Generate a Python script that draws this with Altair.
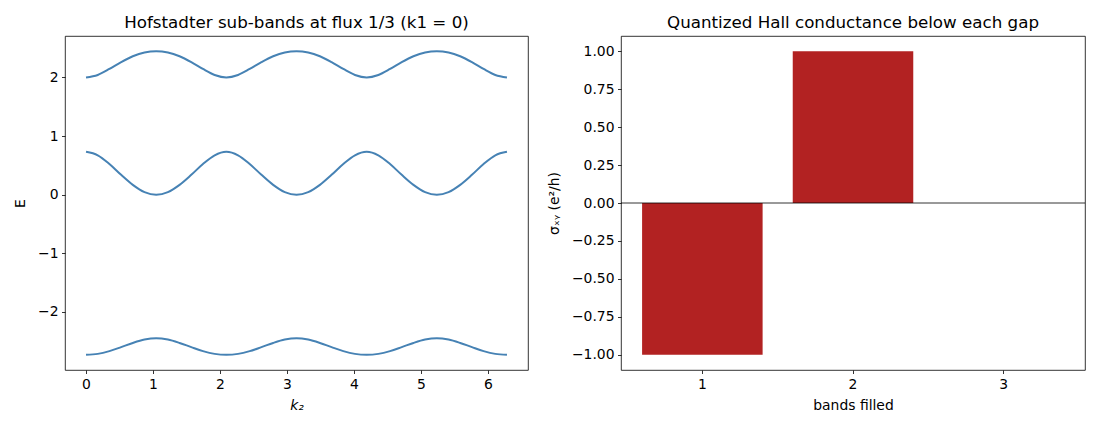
import pandas as pd
import altair as alt

# k2 samples across the Brillouin zone, 0 .. 2*pi
k2 = [0.0, 0.175, 0.349, 0.524, 0.698, 0.873, 1.047, 1.222, 1.396, 1.571, 1.745, 1.92,
      2.094, 2.269, 2.443, 2.618, 2.793, 2.967, 3.142, 3.316, 3.491, 3.665, 3.84, 4.014,
      4.189, 4.363, 4.538, 4.712, 4.887, 5.061, 5.236, 5.411, 5.585, 5.76, 5.934, 6.109, 6.283]

# energies of the three sub-bands
band_top = [2.000, 2.043, 2.145, 2.262, 2.362, 2.427, 2.449, 2.427, 2.362, 2.262, 2.145, 2.043,
            2.000, 2.043, 2.145, 2.262, 2.362, 2.427, 2.449, 2.427, 2.362, 2.262, 2.145, 2.043,
            2.000, 2.043, 2.145, 2.262, 2.362, 2.427, 2.449, 2.427, 2.362, 2.262, 2.145, 2.043, 2.000]
band_mid = [0.732, 0.673, 0.524, 0.339, 0.168, 0.045, 0.000, 0.045, 0.168, 0.339, 0.524, 0.673,
            0.732, 0.673, 0.524, 0.339, 0.168, 0.045, 0.000, 0.045, 0.168, 0.339, 0.524, 0.673,
            0.732, 0.673, 0.524, 0.339, 0.168, 0.045, 0.000, 0.045, 0.168, 0.339, 0.524, 0.673, 0.732]
band_bot = [-2.732, -2.716, -2.669, -2.601, -2.529, -2.472, -2.449, -2.472, -2.529, -2.601, -2.669, -2.716,
            -2.732, -2.716, -2.669, -2.601, -2.529, -2.472, -2.449, -2.472, -2.529, -2.601, -2.669, -2.716,
            -2.732, -2.716, -2.669, -2.601, -2.529, -2.472, -2.449, -2.472, -2.529, -2.601, -2.669, -2.716, -2.732]

# Hall conductance per number of filled bands
bands_filled = [1, 2, 3]
sigma_xy = [-1, 1, 0]

FONT = "DejaVu Sans"

df_bands = pd.concat([
    pd.DataFrame({"k2": k2, "E": band_top, "band": "top"}),
    pd.DataFrame({"k2": k2, "E": band_mid, "band": "mid"}),
    pd.DataFrame({"k2": k2, "E": band_bot, "band": "bot"}),
])
df_hall = pd.DataFrame({"bands": bands_filled, "sigma": sigma_xy})


def title(txt):
    return alt.TitleParams(txt, fontSize=16.7, fontWeight="normal", font=FONT,
                           color="black", offset=4, anchor="middle")


left = alt.Chart(df_bands).mark_line(
    interpolate="monotone", color="#4682b4", strokeWidth=2
).encode(
    x=alt.X("k2:Q", scale=alt.Scale(domain=[-0.314, 6.597], nice=False, zero=False),
            axis=alt.Axis(values=[0, 1, 2, 3, 4, 5, 6], title="k₂", titleFontStyle="italic",
                          titlePadding=8)),
    y=alt.Y("E:Q", scale=alt.Scale(domain=[-2.991, 2.708], nice=False, zero=False),
            axis=alt.Axis(values=[-2, -1, 0, 1, 2], title="E", titlePadding=10)),
    detail="band:N",
).properties(width=463, height=334, title=title("Hofstadter sub-bands at flux 1/3 (k1 = 0)"))

bars = alt.Chart(df_hall).mark_bar(color="#b22222").encode(
    x=alt.X("bands:O", scale=alt.Scale(paddingInner=0.2, paddingOuter=0.14),
            axis=alt.Axis(labelAngle=0, title="bands filled", titlePadding=8)),
    y=alt.Y("sigma:Q", scale=alt.Scale(domain=[-1.1, 1.1], nice=False),
            axis=alt.Axis(values=[-1, -0.75, -0.5, -0.25, 0, 0.25, 0.5, 0.75, 1],
                          format=".2f", title="σₓᵧ  (e²/h)", titlePadding=10)),
)
zero = alt.Chart(pd.DataFrame({"y": [0]})).mark_rule(color="black", strokeWidth=0.8).encode(y="y:Q")

right = (bars + zero).properties(
    width=464, height=334, title=title("Quantized Hall conductance below each gap"))

chart = alt.hconcat(left, right, spacing=18).properties(
    padding={"left": 5, "top": 6, "right": 5, "bottom": 5}
).configure_view(
    stroke="black", strokeWidth=0.8
).configure_axis(
    grid=False, domain=False, ticks=True, tickColor="black", tickSize=3.5, tickWidth=0.8,
    labelFont=FONT, labelFontSize=13.9, labelColor="black", labelPadding=3.5,
    titleFont=FONT, titleFontSize=13.9, titleFontWeight="normal", titleColor="black"
)

chart.save("out.html", embed_options={"renderer": "svg", "actions": False})
